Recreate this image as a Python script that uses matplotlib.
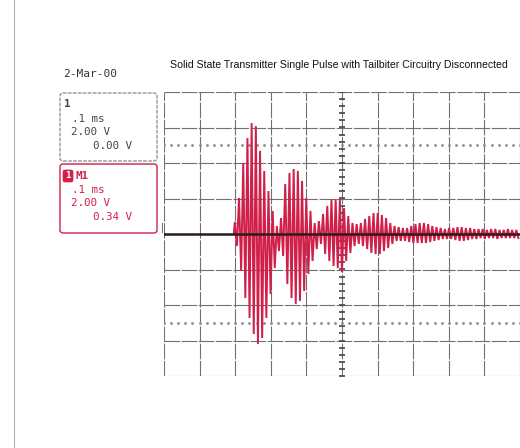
import numpy as np
import matplotlib
matplotlib.use("Agg")
from matplotlib import pyplot as plt
from matplotlib.patches import FancyBboxPatch

# scope settings
TIME_PER_DIV = 0.1      # ms
VOLT_PER_DIV = 2.0      # V
N_XDIV = 10
N_YDIV = 8

# M1 trace: carrier cycles start at ~0.199 ms, one cycle every ~0.0118 ms
PULSE_START = 0.199
CARRIER_PERIOD = 0.0118
# positive and negative peak of each carrier cycle (V)
pos_peaks = [0.68, 2.03, 4.00, 5.41, 6.25, 6.08, 4.68, 3.55, 2.42, 1.30, 0.45, 0.90,
             2.82, 3.44, 3.66, 3.55, 2.99, 2.03, 1.30, 0.62, 0.73, 1.13, 1.58, 1.92, 1.97, 1.97,
             1.46, 1.01, 0.62, 0.56, 0.62, 0.85, 1.01, 1.18, 1.18, 1.07, 0.90, 0.62, 0.45,
             0.39, 0.34, 0.34, 0.45, 0.56, 0.62, 0.62, 0.56, 0.45, 0.39, 0.34, 0.28, 0.34, 0.34,
             0.39, 0.39, 0.34, 0.34, 0.28, 0.28, 0.28, 0.23, 0.28, 0.28, 0.23, 0.23, 0.28, 0.23, 0.23]
neg_peaks = [0.68, 2.08, 3.61, 4.73, 5.63, 6.20, 5.86, 4.73, 3.38, 1.92, 0.96, 1.24,
             2.82, 3.61, 3.94, 3.77, 3.21, 2.25, 1.52, 0.85, 0.56, 1.13, 1.52, 1.80, 1.92, 2.14,
             1.52, 1.07, 0.68, 0.56, 0.68, 0.85, 1.07, 1.13, 1.13, 0.96, 0.79, 0.56, 0.39,
             0.39, 0.39, 0.45, 0.51, 0.51, 0.51, 0.51, 0.45, 0.39, 0.34, 0.28, 0.28, 0.28, 0.34,
             0.39, 0.39, 0.34, 0.28, 0.28, 0.23, 0.28, 0.23, 0.23, 0.28, 0.23, 0.23, 0.23, 0.23, 0.23]

ch1_label = ["1", ".1 ms", "2.00 V", "0.00 V"]
m1_label = ["M1", ".1 ms", "2.00 V", "0.34 V"]
date_text = "2-Mar-00"
title = "Solid State Transmitter Single Pulse with Tailbiter Circuitry Disconnected"

RED = "#d0204a"
GRID = "#707070"

W, H = 520, 448
fig = plt.figure(figsize=(W / 100, H / 100), dpi=100)
fig.patch.set_facecolor("white")

# screen area in pixels: x 164..520, y 92..376
ax = fig.add_axes([164 / W, 1 - 376 / H, 356 / W, 284 / H])
xmax = N_XDIV * TIME_PER_DIV
ymax = N_YDIV / 2 * VOLT_PER_DIV
ax.set_xlim(0, xmax)
ax.set_ylim(-ymax, ymax)
ax.axis("off")

# graticule
for i in range(N_XDIV + 1):
    ax.axvline(i * TIME_PER_DIV, color=GRID, lw=0.8, ls=(0, (14, 1.5)), zorder=1)
for j in range(N_YDIV + 1):
    ax.axhline(-ymax + j * VOLT_PER_DIV, color=GRID, lw=0.8, ls=(0, (14, 1.5)), zorder=1)

# minor ticks on the centre vertical axis
minor_y = np.arange(-ymax, ymax + 1e-9, VOLT_PER_DIV / 5)
ax.plot([xmax / 2] * len(minor_y), minor_y, ls="none", marker="_", ms=4.5, mew=1.2,
        color="#444444", zorder=2)
minor_x = np.arange(0, xmax + 1e-9, TIME_PER_DIV / 5)

# dotted lines at +/- 2.5 div
for yv in (2.5 * VOLT_PER_DIV, -2.5 * VOLT_PER_DIV):
    ax.plot(minor_x, [yv] * len(minor_x), ls="none", marker="s", ms=0.9,
            color="#8a8a8a", zorder=2)

# M1 trace as zigzag between cycle peaks
t_pts = [PULSE_START - CARRIER_PERIOD / 4]
v_pts = [0.0]
for k, (p, n) in enumerate(zip(pos_peaks, neg_peaks)):
    t = PULSE_START + k * CARRIER_PERIOD
    t_pts += [t, t + CARRIER_PERIOD / 2]
    v_pts += [p, -n]
ax.plot(t_pts, v_pts, color=RED, lw=1.4, zorder=3, solid_joinstyle="miter")

# channel 1 trace (flat baseline)
ax.plot([0, xmax], [0, 0], color="#2b1c1c", lw=1.8, zorder=4)

# small markers at trigger position / ground level
ax.plot([PULSE_START + 0.002, PULSE_START + 0.012], [0.6, 0.6], color="#888888", lw=0.8,
        zorder=2, clip_on=False)
ax.plot([-0.005, -0.005], [0.1, 0.6], color="#777777", lw=0.8, clip_on=False)

# page furniture in pixel coordinates
def px(x, y):
    return x / W, 1 - y / H

fig.add_artist(plt.Line2D([14 / W, 14 / W], [0, 1], color="#b0b0b0", lw=0.8))

fig.text(*px(339, 65), title, ha="center", va="center", fontsize=7.55,
         family="Liberation Sans", color="#111111")
fig.text(*px(63, 74), date_text, ha="left", va="center", fontsize=8,
         family="DejaVu Sans Mono", color="#333333")

box1 = FancyBboxPatch(px(60, 161), 97 / W, 68 / H, boxstyle="round,pad=0,rounding_size=0.006",
                      transform=fig.transFigure, fill=False, ec="#8a8a8a", lw=0.9, ls=(0, (3, 1)))
fig.add_artist(box1)
box2 = FancyBboxPatch(px(60, 233), 97 / W, 69 / H, boxstyle="round,pad=0,rounding_size=0.006",
                      transform=fig.transFigure, fill=False, ec=RED, lw=1.0)
fig.add_artist(box2)

mono = dict(family="DejaVu Sans Mono", fontsize=7.8, va="center", ha="left")
fig.text(*px(64, 104), ch1_label[0], color="#444444", fontweight="bold", **mono)
fig.text(*px(72, 119), ch1_label[1], color="#444444", **mono)
fig.text(*px(71, 132), ch1_label[2], color="#444444", **mono)
fig.text(*px(93, 146), ch1_label[3], color="#444444", **mono)

# M1 icon: small red box with a "1"
fig.add_artist(FancyBboxPatch(px(63, 182), 10 / W, 12 / H, boxstyle="round,pad=0,rounding_size=0.004",
                              transform=fig.transFigure, fc=RED, ec=RED, lw=0.5))
fig.text(*px(68, 176), "1", color="white", family="DejaVu Sans Mono", fontsize=6.5,
         fontweight="bold", va="center", ha="center")
fig.text(*px(76, 176), m1_label[0], color=RED, fontweight="bold", **mono)
fig.text(*px(72, 190), m1_label[1], color=RED, **mono)
fig.text(*px(71, 203), m1_label[2], color=RED, **mono)
fig.text(*px(93, 217), m1_label[3], color=RED, **mono)

fig.savefig("out.png", dpi=100, facecolor="white")
